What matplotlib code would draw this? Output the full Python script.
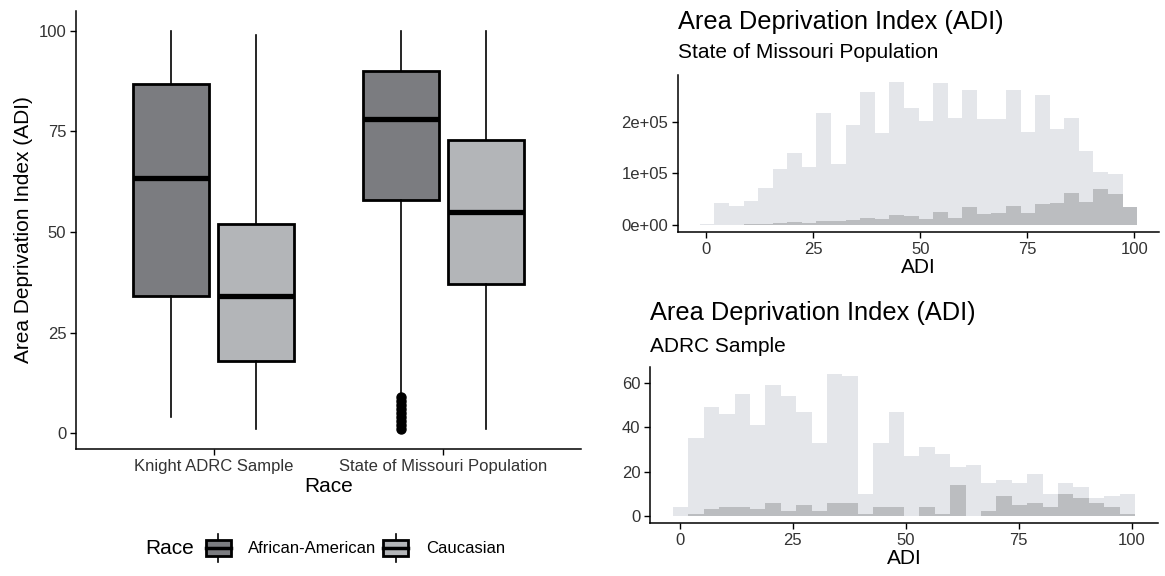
import matplotlib
matplotlib.use('Agg')
import matplotlib.pyplot as plt
from matplotlib.patches import Rectangle
from matplotlib.lines import Line2D
from matplotlib.legend_handler import HandlerBase
import numpy as np

plt.rcParams['font.family'] = ['Liberation Sans', 'DejaVu Sans']

# --- dados do boxplot (linhas = raça, colunas = grupo) ---
grupos = ['Knight ADRC Sample', 'State of Missouri Population']
racas = ['African-American', 'Caucasian']
whislo = [[4, 10], [1, 1]]
q1 = [[34.2, 58], [18, 37]]
mediana = [[63.5, 78], [34, 55]]
q3 = [[86.8, 90], [52, 73]]
whishi = [[100, 100], [99, 100]]
outliers = [[[], [1, 2, 3, 4, 5, 6, 7, 8, 9]], [[], []]]

# --- dados dos histogramas (30 bins) ---
bordas = np.linspace(-1.5, 100.7, 31)
mo_cauc = [0.02, 0.43, 0.36, 0.47, 0.71, 1.08, 1.39, 1.12, 2.17, 1.19,
           1.93, 2.58, 1.79, 2.77, 2.27, 2.02, 2.76, 2.08, 2.61, 2.05,
           2.05, 2.61, 1.81, 2.52, 1.86, 2.08, 1.44, 1.02, 0.98, 0.0]
mo_afam = [0.0, 0.0, 0.0, 0.01, 0.02, 0.03, 0.05, 0.03, 0.08, 0.08,
           0.10, 0.14, 0.11, 0.19, 0.17, 0.12, 0.24, 0.14, 0.34, 0.21,
           0.23, 0.36, 0.23, 0.41, 0.43, 0.61, 0.45, 0.69, 0.60, 0.35]
adrc_cauc = [4, 35, 49, 46, 55, 41, 59, 54, 47, 33, 64, 63, 10, 33, 47,
             27, 31, 28, 22, 23, 15, 16, 15, 19, 10, 15, 13, 8, 9, 10]
adrc_afam = [0, 1, 3, 4, 4, 3, 6, 2, 5, 2, 6, 6, 1, 4, 4,
             0, 4, 1, 14, 0, 2, 9, 5, 6, 4, 10, 8, 6, 4, 1]

cor_box = ['#7b7c80', '#b3b5b8']
cor_hist_claro = '#e4e6ea'
cor_hist_escuro = '#bbbdc0'
cor_texto = '#333333'

W, H = 1165, 576
fig = plt.figure(figsize=(W / 100, H / 100), dpi=100)


def eixo(x0, y0, x1, y1):
    # cria eixo a partir de pixels (topo-esquerda)
    return fig.add_axes([x0 / W, 1 - y1 / H, (x1 - x0) / W, (y1 - y0) / H])


def estilo(ax):
    for s in ['top', 'right']:
        ax.spines[s].set_visible(False)
    for s in ['left', 'bottom']:
        ax.spines[s].set_linewidth(1.1)
    ax.tick_params(length=4, width=1.0, labelsize=12, labelcolor=cor_texto, pad=3)


# --- boxplot ---
ax = eixo(76, 11, 581, 449)
estilo(ax)
desloc = [-0.185, 0.185]
for r in range(2):
    stats = []
    for g in range(2):
        stats.append(dict(med=mediana[r][g], q1=q1[r][g], q3=q3[r][g],
                          whislo=whislo[r][g], whishi=whishi[r][g],
                          fliers=outliers[r][g]))
    ax.bxp(stats, positions=[g + 1 + desloc[r] for g in range(2)], widths=0.33,
           patch_artist=True, showcaps=False,
           boxprops=dict(facecolor=cor_box[r], edgecolor='black', linewidth=2.0),
           medianprops=dict(color='black', linewidth=3.8),
           whiskerprops=dict(color='black', linewidth=1.2),
           flierprops=dict(marker='o', markerfacecolor='black', markeredgecolor='black',
                           markersize=6.5))
ax.set_xlim(0.4, 2.6)
ax.set_ylim(-3.95, 104.95)
ax.set_xticks([1, 2])
ax.set_xticklabels(grupos)
ax.set_yticks([0, 25, 50, 75, 100])
ax.set_xlabel('Race', fontsize=15, labelpad=2)
ax.set_ylabel('Area Deprivation Index (ADI)', fontsize=15, labelpad=4)


# --- legenda com chave de boxplot ---
class ChaveBox(HandlerBase):
    def create_artists(self, legend, orig_handle, xdescent, ydescent, width, height, fontsize, trans):
        bw, bh = 18, 12
        cx = -xdescent + width / 2
        cy = -ydescent + height / 2
        arts = [Line2D([cx, cx], [cy - bh / 2 - 4, cy + bh / 2 + 4], color='black', lw=1.2, transform=trans),
                Rectangle((cx - bw / 2, cy - bh / 2), bw, bh, facecolor=orig_handle.get_facecolor(),
                          edgecolor='black', lw=2.0, transform=trans),
                Line2D([cx - bw / 2, cx + bw / 2], [cy, cy], color='black', lw=2.5, transform=trans)]
        return arts


alcas = [Rectangle((0, 0), 1, 1, facecolor=c) for c in cor_box]
fig.text(145 / W, 1 - 548 / H, 'Race', fontsize=15, va='center', ha='left')
fig.legend(alcas, racas, handler_map={Rectangle: ChaveBox()}, loc='center left',
           bbox_to_anchor=(190 / W, 1 - 548 / H), ncol=2, frameon=False, fontsize=12,
           handlelength=1.6, handleheight=1.8, handletextpad=1.0, columnspacing=0.35)


# --- histogramas ---
def histograma(ax, claro, escuro, titulo, subtitulo, y_tit, y_sub):
    estilo(ax)
    ax.stairs(claro, bordas, fill=True, color=cor_hist_claro, lw=0)
    ax.stairs(escuro, bordas, fill=True, color=cor_hist_escuro, lw=0)
    ax.set_xlim(-6.6, 105.8)
    ax.set_xticks([0, 25, 50, 75, 100])
    ax.set_xlabel('ADI', fontsize=15, labelpad=1)
    x0 = ax.get_position().x0
    fig.text(x0, 1 - y_tit / H, titulo, fontsize=18.3, va='center', ha='left')
    fig.text(x0, 1 - y_sub / H, subtitulo, fontsize=15, va='center', ha='left')


ax2 = eixo(678, 75, 1159, 232)
histograma(ax2, mo_cauc, mo_afam, 'Area Deprivation Index (ADI)', 'State of Missouri Population', 22, 52)
ax2.set_ylim(-0.139, 2.91)
ax2.set_yticks([0, 1, 2])
ax2.set_yticklabels(['0e+00', '1e+05', '2e+05'])

ax3 = eixo(650, 367, 1158, 523)
histograma(ax3, adrc_cauc, adrc_afam, 'Area Deprivation Index (ADI)', 'ADRC Sample', 313, 346)
ax3.set_ylim(-3.2, 67.2)
ax3.set_yticks([0, 20, 40, 60])

fig.savefig('out.png', dpi=100)
